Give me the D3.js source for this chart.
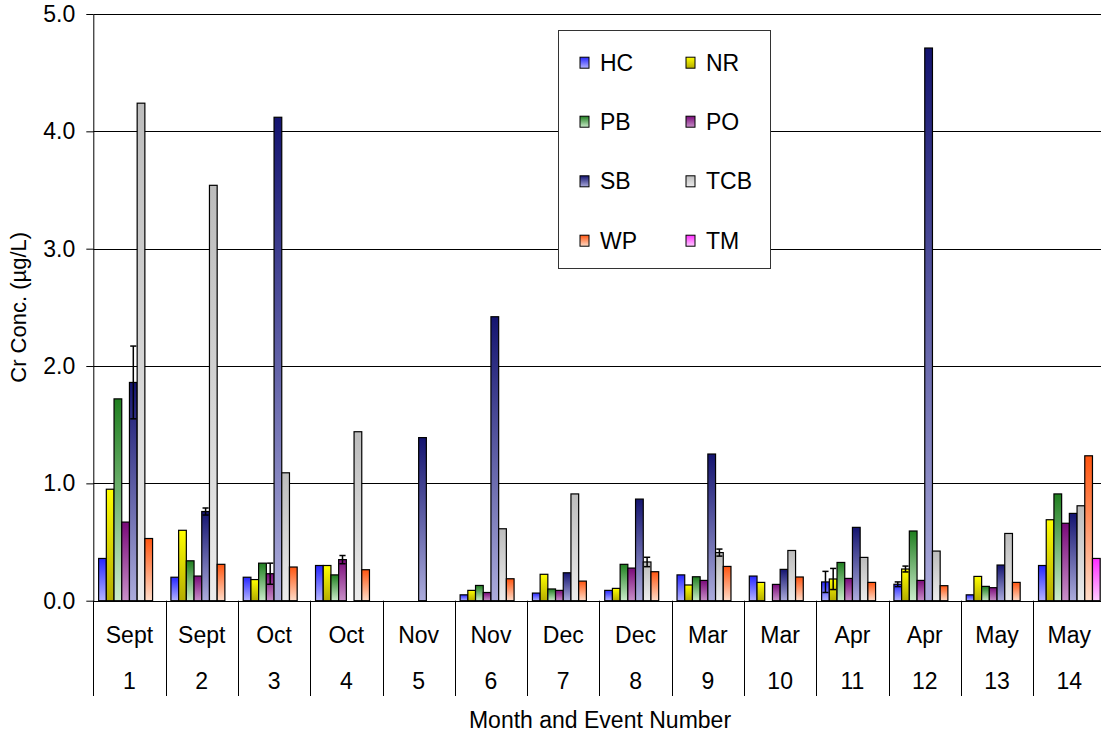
<!DOCTYPE html>
<html>
<head>
<meta charset="utf-8">
<script src="https://cdn.jsdelivr.net/npm/d3@7"></script>
<style>
  html, body { margin: 0; padding: 0; background: #fff; }
  text { font-family: "Liberation Sans", Arial, sans-serif; fill: #000; }
</style>
</head>
<body>
<div id="chart"></div>
<script>
// categories (month row + event number row)
const months = ['Sept', 'Sept', 'Oct', 'Oct', 'Nov', 'Nov', 'Dec', 'Dec', 'Mar', 'Mar', 'Apr', 'Apr', 'May', 'May'];
const eventNums = ['1', '2', '3', '4', '5', '6', '7', '8', '9', '10', '11', '12', '13', '14'];

// series values (null = no sample)
const HC  = [0.36, 0.20, 0.20, 0.30, null, 0.05, 0.065, 0.088, 0.22, 0.21, 0.16, 0.14, 0.05, 0.30];
const NR  = [0.95, 0.60, 0.18, 0.30, null, 0.088, 0.225, 0.105, 0.134, 0.156, 0.185, 0.27, 0.207, 0.69];
const PB  = [1.72, 0.34, 0.32, 0.22, null, 0.13, 0.10, 0.31, 0.204, null, 0.326, 0.594, 0.122, 0.91];
const PO  = [0.67, 0.21, 0.23, 0.35, null, 0.07, 0.088, 0.278, 0.173, 0.139, 0.19, 0.173, 0.111, 0.66];
const SB  = [1.86, 0.76, 4.12, null, 1.39, 2.42, 0.238, 0.866, 1.25, 0.267, 0.625, 4.71, 0.304, 0.744];
const TCB = [4.24, 3.54, 1.09, 1.44, null, 0.613, 0.91, 0.33, 0.41, 0.428, 0.369, 0.423, 0.573, 0.809];
const WP  = [0.53, 0.31, 0.287, 0.264, null, 0.187, 0.167, 0.247, 0.292, 0.202, 0.156, 0.128, 0.156, 1.235];
const TM  = [null, null, null, null, null, null, null, null, null, null, null, null, null, 0.36];

// error bar half-widths
const HC_err  = [null, null, null, null, null, null, null, null, null, null, 0.09, 0.02, null, null];
const NR_err  = [null, null, null, null, null, null, null, null, null, null, 0.09, 0.025, null, null];
const PO_err  = [null, null, 0.09, 0.035, null, null, null, null, null, null, null, null, null, null];
const SB_err  = [0.31, 0.03, null, null, null, null, null, null, null, null, null, null, null, null];
const TCB_err = [null, null, null, null, null, null, null, 0.04, 0.03, null, null, null, null, null];

const yTicks = [0, 1, 2, 3, 4, 5];

// series table: name, values, errors, gradient top/bottom
const series = [
  { name: 'HC',  values: HC,  errors: HC_err,  top: '#2626ff', bottom: '#b4b4ff' },
  { name: 'NR',  values: NR,  errors: NR_err,  top: '#ffff00', bottom: '#b4ac00' },
  { name: 'PB',  values: PB,  errors: null,    top: '#1f7f1f', bottom: '#cceccc' },
  { name: 'PO',  values: PO,  errors: PO_err,  top: '#7a0a7a', bottom: '#c890c8' },
  { name: 'SB',  values: SB,  errors: SB_err,  top: '#141470', bottom: '#acacdc' },
  { name: 'TCB', values: TCB, errors: TCB_err, top: '#bcbcbc', bottom: '#ececec' },
  { name: 'WP',  values: WP,  errors: null,    top: '#ff5510', bottom: '#ffdcc8' },
  { name: 'TM',  values: TM,  errors: null,    top: '#ff2cff', bottom: '#ffccff' }
];

const width = 1101;
const height = 736;
const margin = { top: 14, left: 93.3, bottom: 135 };
const plotBottom = 600.7;
const groupRight = 93.3 + 14 * 72.3;
const fontSize = '23px';

const svg = d3.select('#chart')
  .append('svg')
  .attr('width', width)
  .attr('height', height);

svg.append('rect')
  .attr('width', width)
  .attr('height', height)
  .attr('fill', '#fff');

// gradients
const defs = svg.append('defs');
series.forEach((s, i) => {
  const grad = defs.append('linearGradient')
    .attr('id', `grad-${i}`)
    .attr('x1', 0).attr('y1', 0)
    .attr('x2', 0).attr('y2', 1);
  grad.append('stop').attr('offset', '0%').attr('stop-color', s.top);
  grad.append('stop').attr('offset', '100%').attr('stop-color', s.bottom);
});

// scales
const x0 = d3.scaleBand()
  .domain(eventNums)
  .range([margin.left, groupRight])
  .padding(0);

const x1 = d3.scaleBand()
  .domain(series.map(s => s.name))
  .range([0, x0.bandwidth()])
  .paddingInner(0)
  .paddingOuter(0.69);

const y = d3.scaleLinear()
  .domain([0, 5])
  .range([plotBottom, margin.top]);

// gridlines
svg.append('g')
  .selectAll('line')
  .data(yTicks.filter(d => d > 0))
  .enter()
  .append('line')
  .attr('x1', margin.left)
  .attr('x2', width)
  .attr('y1', d => Math.round(y(d)) + 0.5)
  .attr('y2', d => Math.round(y(d)) + 0.5)
  .attr('stroke', '#000')
  .attr('stroke-width', 1);

// bars
const barData = [];
series.forEach((s, si) => {
  s.values.forEach((v, gi) => {
    if (v == null) return;
    barData.push({ s, si, gi, v, err: s.errors ? s.errors[gi] : null });
  });
});

svg.append('g')
  .selectAll('rect')
  .data(barData)
  .enter()
  .append('rect')
  .attr('x', d => x0(eventNums[d.gi]) + x1(d.s.name))
  .attr('y', d => y(d.v))
  .attr('width', x1.bandwidth())
  .attr('height', d => y(0) - y(d.v))
  .attr('fill', d => `url(#grad-${d.si})`)
  .attr('stroke', '#000')
  .attr('stroke-width', 1.2);

// error bars
const errData = barData.filter(d => d.err != null);
const eg = svg.append('g')
  .attr('stroke', '#000')
  .attr('stroke-width', 1.5);
const cap = x1.bandwidth() * 0.4;
errData.forEach(d => {
  const cx = x0(eventNums[d.gi]) + x1(d.s.name) + x1.bandwidth() / 2;
  const yt = y(d.v + d.err);
  const yb = y(d.v - d.err);
  eg.append('line').attr('x1', cx).attr('x2', cx).attr('y1', yt).attr('y2', yb);
  eg.append('line').attr('x1', cx - cap).attr('x2', cx + cap).attr('y1', yt).attr('y2', yt);
  eg.append('line').attr('x1', cx - cap).attr('x2', cx + cap).attr('y1', yb).attr('y2', yb);
});

// Y axis
const yAxis = svg.append('g')
  .attr('transform', `translate(${margin.left}, 0)`)
  .call(d3.axisLeft(y).tickValues(yTicks).tickFormat(d3.format('.1f')).tickSize(7).tickSizeOuter(0).tickPadding(11));
yAxis.select('.domain').attr('stroke', '#000');
yAxis.selectAll('.tick line').attr('stroke', '#000');
yAxis.selectAll('.tick text')
  .style('font-size', fontSize)
  .style('font-family', '"Liberation Sans", Arial, sans-serif')
  .attr('fill', '#000');

// X axis: baseline + group separators
const xg = svg.append('g');
xg.append('line')
  .attr('x1', margin.left)
  .attr('x2', width)
  .attr('y1', Math.round(y(0)) + 0.5)
  .attr('y2', Math.round(y(0)) + 0.5)
  .attr('stroke', '#000');

const boundaries = eventNums.map(e => x0(e)).concat([groupRight]);
xg.selectAll('.sep')
  .data(boundaries)
  .enter()
  .append('line')
  .attr('class', 'sep')
  .attr('x1', d => Math.round(d) + 0.5)
  .attr('x2', d => Math.round(d) + 0.5)
  .attr('y1', y(0))
  .attr('y2', 696)
  .attr('stroke', '#000');

xg.selectAll('.month')
  .data(months)
  .enter()
  .append('text')
  .attr('class', 'month')
  .attr('x', (d, i) => x0(eventNums[i]) + x0.bandwidth() / 2)
  .attr('y', 643)
  .attr('text-anchor', 'middle')
  .style('font-size', fontSize)
  .text(d => d);

xg.selectAll('.event')
  .data(eventNums)
  .enter()
  .append('text')
  .attr('class', 'event')
  .attr('x', d => x0(d) + x0.bandwidth() / 2)
  .attr('y', 689)
  .attr('text-anchor', 'middle')
  .style('font-size', fontSize)
  .text(d => d);

// axis titles
svg.append('text')
  .attr('x', 600)
  .attr('y', 728)
  .attr('text-anchor', 'middle')
  .style('font-size', fontSize)
  .text('Month and Event Number');

svg.append('text')
  .attr('transform', `translate(26, ${(margin.top + plotBottom) / 2}) rotate(-90)`)
  .attr('text-anchor', 'middle')
  .style('font-size', '22px')
  .text('Cr Conc. (µg/L)');

// legend
const legend = svg.append('g');
legend.append('rect')
  .attr('x', 558.5)
  .attr('y', 30.5)
  .attr('width', 212)
  .attr('height', 238)
  .attr('fill', '#fff')
  .attr('stroke', '#333')
  .attr('stroke-width', 1);

const colX = [580, 686];
const rowY = [62.7, 121.7, 181.3, 240.7];
series.forEach((s, i) => {
  const lx = colX[i % 2];
  const ly = rowY[Math.floor(i / 2)];
  legend.append('rect')
    .attr('x', lx)
    .attr('y', ly - 5.5)
    .attr('width', 9)
    .attr('height', 11)
    .attr('fill', `url(#grad-${i})`)
    .attr('stroke', '#000')
    .attr('stroke-width', 1);
  legend.append('text')
    .attr('x', lx + 20)
    .attr('y', ly + 8)
    .style('font-size', fontSize)
    .text(s.name);
});
</script>
</body>
</html>
